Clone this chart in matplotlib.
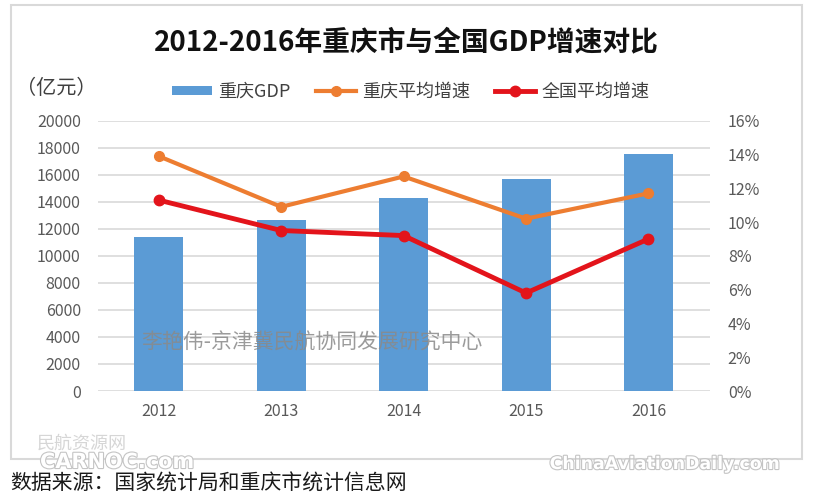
import matplotlib.pyplot as plt
import matplotlib.patheffects as pe
from matplotlib import font_manager
from matplotlib.patches import Rectangle
from matplotlib.lines import Line2D
from matplotlib.patches import Patch
from matplotlib.ticker import FuncFormatter

plt.rcParams['font.family'] = ['Noto Sans CJK SC', 'DejaVu Sans']

# Data
years = ['2012', '2013', '2014', '2015', '2016']
cq_gdp = [11409.6, 12656.7, 14262.6, 15717.3, 17558.8]      # 亿元
cq_growth = [13.9, 10.9, 12.7, 10.2, 11.7]                   # %
cn_growth = [11.3, 9.5, 9.2, 5.8, 9.0]                       # %

blue = '#5B9BD5'
orange = '#ED7D31'
red = '#E3141B'
grid = '#D9D9D9'
tick_col = '#595959'

W, H = 813, 495
fig = plt.figure(figsize=(W / 100, H / 100), dpi=100)

# outer frame
fig.patches.append(Rectangle((11 / W, 1 - 459 / H), (802 - 11) / W, (459 - 5) / H,
                             transform=fig.transFigure, fill=False,
                             edgecolor=grid, linewidth=1.5))

ax = fig.add_axes([97.5 / W, 1 - 391 / H, (709.7 - 97.5) / W, (391 - 120.7) / H])
x = range(len(years))
ax.bar(x, cq_gdp, width=0.4, color=blue, zorder=2)
ax.set_xlim(-0.5, len(years) - 0.5)
ax.set_ylim(0, 20000)
ax.set_yticks(range(0, 20001, 2000))
ax.set_xticks(list(x))
ax.set_xticklabels(years)
ax.grid(axis='y', color=grid, linewidth=1.2, zorder=0)
ax.set_axisbelow(True)
for s in ax.spines.values():
    s.set_visible(False)
ax.tick_params(axis='both', length=0, colors=tick_col, labelsize=11.5)
ax.tick_params(axis='y', pad=12)
ax.tick_params(axis='x', pad=9)

ax2 = ax.twinx()
ax2.plot(x, cq_growth, color=orange, linewidth=3, marker='o', markersize=7, zorder=3)
ax2.plot(x, cn_growth, color=red, linewidth=3.5, marker='o', markersize=7.5, zorder=4)
ax2.set_ylim(0, 16)
ax2.set_yticks(range(0, 17, 2))
ax2.yaxis.set_major_formatter(FuncFormatter(lambda v, p: f'{int(v)}%'))
for s in ax2.spines.values():
    s.set_visible(False)
ax2.tick_params(axis='y', length=0, colors=tick_col, labelsize=11.5, pad=13)

# title and unit
fig.text(0.5, 1 - 42 / H, '2012-2016年重庆市与全国GDP增速对比',
         ha='center', va='center', fontsize=20, fontweight='bold', color='#111111')
fig.text(16 / W, 1 - 88 / H, '（亿元）', ha='left', va='center', fontsize=14.5,
         color='#404040')

handles = [Patch(facecolor=blue, edgecolor='none'),
           Line2D([], [], color=orange, linewidth=3, marker='o', markersize=7),
           Line2D([], [], color=red, linewidth=3.5, marker='o', markersize=7.5)]
labels = ['重庆GDP', '重庆平均增速', '全国平均增速']
leg = fig.legend(handles, labels, loc='center', bbox_to_anchor=(411 / W, 1 - 92 / H),
                 ncol=3, frameon=False, fontsize=13, handlelength=2.2,
                 handleheight=0.45, handletextpad=0.35, columnspacing=1.4)
for t in leg.get_texts():
    t.set_color('#404040')

# watermarks
fig.text(141 / W, 1 - 343 / H, '李艳伟-京津冀民航协同发展研究中心', ha='left', va='center',
         fontsize=15, color='#8a8a8a', alpha=0.85, zorder=10)
fig.text(37 / W, 1 - 444 / H, '民航资源网', ha='left', va='center', fontsize=13,
         color='#d6d6d6')
names = {f.name for f in font_manager.fontManager.ttflist}
narrow = 'Liberation Sans Narrow' if 'Liberation Sans Narrow' in names else 'DejaVu Sans'
outline = [pe.withStroke(linewidth=1.6, foreground='#c4c4c4')]
fig.text(40 / W, 1 - 462 / H, 'CARNOC.com', ha='left', va='center', fontsize=15,
         fontweight='bold', family=narrow, color='white', path_effects=outline)
fig.text(780 / W, 1 - 464 / H, 'ChinaAviationDaily.com', ha='right', va='center',
         fontsize=12.5, fontweight='bold', family=narrow, color='white',
         path_effects=outline)

fig.text(10 / W, 1 - 484 / H, '数据来源：国家统计局和重庆市统计信息网', ha='left',
         va='center', fontsize=15, color='#1a1a1a')

fig.savefig('out.png', dpi=100)
